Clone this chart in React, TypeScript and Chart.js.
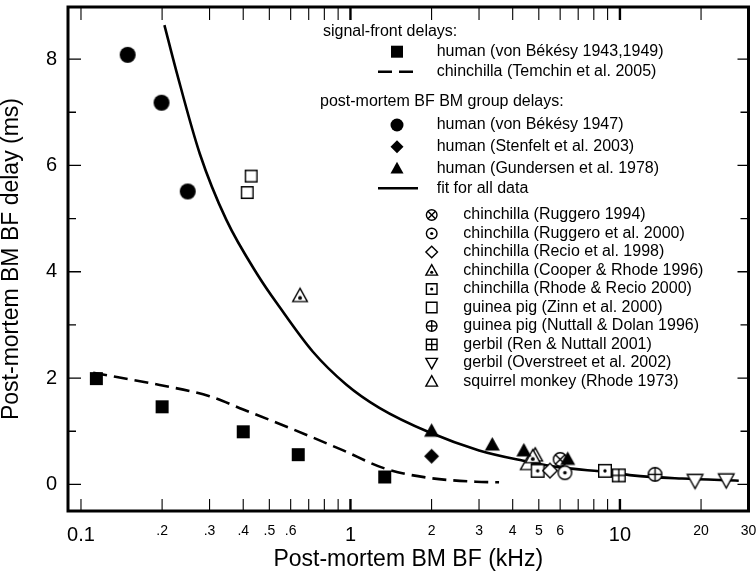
import React, { useEffect, useRef } from 'react';
import { Chart, registerables } from 'chart.js';

Chart.register(...registerables);

const FONT = '"Liberation Sans", Arial, Helvetica, sans-serif';

// ---------- axis ticks ----------
const xTickValues = [0.1, 0.2, 0.3, 0.4, 0.5, 0.6, 0.7, 0.8, 0.9, 1, 2, 3, 4, 5, 6, 7, 8, 9, 10, 20, 30];
const xTickLabels = ['0.1', '.2', '.3', '.4', '.5', '.6', '', '', '', '1', '2', '3', '4', '5', '6', '', '', '', '10', '20', '30'];
const xBigLabels = ['0.1', '1', '10'];
const yTickValues = [0, 1, 2, 3, 4, 5, 6, 7, 8];
const yTickLabels = ['0', '', '2', '', '4', '', '6', '', '8'];

const xTitle = 'Post-mortem BM BF (kHz)';
const yTitle = 'Post-mortem BM BF delay (ms)';

// ---------- series ----------
const fitFreq = [0.204, 0.226, 0.276, 0.346, 0.454, 0.545, 0.724, 0.964, 1.28, 1.96, 3.0, 4.34, 6.0, 9.1, 11.1, 17.0, 27.6];
const fitDelay = [8.64, 7.77, 6.22, 4.98, 3.93, 3.34, 2.5, 1.88, 1.44, 0.98, 0.64, 0.45, 0.32, 0.23, 0.17, 0.11, 0.07];

const temchinFreq = [0.111, 0.196, 0.3, 0.4, 0.61, 0.94, 1.34, 1.91, 2.92, 3.56];
const temchinDelay = [2.1, 1.87, 1.66, 1.41, 1.04, 0.64, 0.3, 0.13, 0.05, 0.04];

const bekesy4349Freq = [0.114, 0.2, 0.4, 0.64, 1.34];
const bekesy4349Delay = [1.99, 1.46, 0.99, 0.56, 0.14];

const bekesy47Freq = [0.149, 0.199, 0.249];
const bekesy47Delay = [8.08, 7.18, 5.51];

const stenfeltFreq = [2.0];
const stenfeltDelay = [0.53];

const gundersenFreq = [2.0, 3.36, 4.4, 6.4];
const gundersenDelay = [1.01, 0.75, 0.64, 0.48];

const ruggero94Freq = [6.0];
const ruggero94Delay = [0.47];

const ruggero00Freq = [6.25];
const ruggero00Delay = [0.22];

const recioFreq = [5.5];
const recioDelay = [0.26];

const cooperFreq = [0.65, 4.75];
const cooperDelay = [3.55, 0.52];

const rhodeRecioFreq = [4.95, 8.8];
const rhodeRecioDelay = [0.255, 0.255];

const zinnFreq = [0.428, 0.414];
const zinnDelay = [5.8, 5.49];

const nuttallDolanFreq = [13.5];
const nuttallDolanDelay = [0.19];

const renFreq = [9.9];
const renDelay = [0.17];

const overstreetFreq = [19.0, 24.8];
const overstreetDelay = [0.07, 0.08];

const squirrelFreq = [4.55, 4.85];
const squirrelDelay = [0.39, 0.55];

// ---------- legend texts ----------
const headerSignal = 'signal-front delays:';
const headerGroup = 'post-mortem BF BM group delays:';

type Kind =
  | 'fSquare' | 'fCircle' | 'fDiamond' | 'fTriangle'
  | 'circleX' | 'circleDot' | 'diamond' | 'triangleDot' | 'squareDot'
  | 'square' | 'circlePlus' | 'squareGrid' | 'triangleDown' | 'triangle';

interface Series { label: string; kind: Kind; freq: number[]; delay: number[]; size: number; }

const markerSeries: Series[] = [
  { label: 'human (von Békésy 1943,1949)', kind: 'fSquare', freq: bekesy4349Freq, delay: bekesy4349Delay, size: 13 },
  { label: 'human (von Békésy 1947)', kind: 'fCircle', freq: bekesy47Freq, delay: bekesy47Delay, size: 16 },
  { label: 'human (Stenfelt et al. 2003)', kind: 'fDiamond', freq: stenfeltFreq, delay: stenfeltDelay, size: 15 },
  { label: 'human (Gundersen et al. 1978)', kind: 'fTriangle', freq: gundersenFreq, delay: gundersenDelay, size: 15 },
  { label: 'chinchilla (Ruggero 1994)', kind: 'circleX', freq: ruggero94Freq, delay: ruggero94Delay, size: 15 },
  { label: 'chinchilla (Ruggero et al. 2000)', kind: 'circleDot', freq: ruggero00Freq, delay: ruggero00Delay, size: 15 },
  { label: 'chinchilla (Recio et al. 1998)', kind: 'diamond', freq: recioFreq, delay: recioDelay, size: 16 },
  { label: 'chinchilla (Cooper & Rhode 1996)', kind: 'triangleDot', freq: cooperFreq, delay: cooperDelay, size: 16 },
  { label: 'chinchilla (Rhode & Recio 2000)', kind: 'squareDot', freq: rhodeRecioFreq, delay: rhodeRecioDelay, size: 14 },
  { label: 'guinea pig (Zinn et al. 2000)', kind: 'square', freq: zinnFreq, delay: zinnDelay, size: 13 },
  { label: 'guinea pig (Nuttall & Dolan 1996)', kind: 'circlePlus', freq: nuttallDolanFreq, delay: nuttallDolanDelay, size: 15 },
  { label: 'gerbil (Ren & Nuttall 2001)', kind: 'squareGrid', freq: renFreq, delay: renDelay, size: 14 },
  { label: 'gerbil (Overstreet et al. 2002)', kind: 'triangleDown', freq: overstreetFreq, delay: overstreetDelay, size: 17 },
  { label: 'squirrel monkey (Rhode 1973)', kind: 'triangle', freq: squirrelFreq, delay: squirrelDelay, size: 16 },
];

const fitLabel = 'fit for all data';
const temchinLabel = 'chinchilla (Temchin et al. 2005)';

// ---------- marker drawing ----------
function drawMarker(ctx: CanvasRenderingContext2D, kind: Kind, cx: number, cy: number, s: number) {
  ctx.save();
  const lw = 1.4;
  ctx.lineWidth = lw;
  ctx.strokeStyle = '#000';
  ctx.fillStyle = '#000';
  const filled = kind[0] === 'f';
  const r = filled ? s / 2 : s / 2 - lw / 2;

  const shape = (k: string) => {
    ctx.beginPath();
    if (k === 'square') ctx.rect(cx - r, cy - r, 2 * r, 2 * r);
    else if (k === 'circle') ctx.arc(cx, cy, r, 0, Math.PI * 2);
    else if (k === 'diamond') {
      ctx.moveTo(cx, cy - r); ctx.lineTo(cx + r, cy); ctx.lineTo(cx, cy + r); ctx.lineTo(cx - r, cy); ctx.closePath();
    } else if (k === 'up') {
      ctx.moveTo(cx, cy - r); ctx.lineTo(cx + r, cy + r * 0.8); ctx.lineTo(cx - r, cy + r * 0.8); ctx.closePath();
    } else if (k === 'down') {
      ctx.moveTo(cx, cy + r); ctx.lineTo(cx + r, cy - r * 0.8); ctx.lineTo(cx - r, cy - r * 0.8); ctx.closePath();
    }
  };
  const open = (k: string) => {
    shape(k);
    ctx.fillStyle = '#fff';
    ctx.fill();
    ctx.stroke();
    ctx.fillStyle = '#000';
  };
  const dot = (dx: number, dy: number) => {
    ctx.beginPath();
    ctx.arc(cx + dx, cy + dy, Math.max(1.6, s * 0.12), 0, Math.PI * 2);
    ctx.fill();
  };
  const line = (x1: number, y1: number, x2: number, y2: number) => {
    ctx.beginPath(); ctx.moveTo(x1, y1); ctx.lineTo(x2, y2); ctx.stroke();
  };

  switch (kind) {
    case 'fSquare': shape('square'); ctx.fill(); break;
    case 'fCircle': shape('circle'); ctx.fill(); break;
    case 'fDiamond': shape('diamond'); ctx.fill(); break;
    case 'fTriangle': shape('up'); ctx.fill(); break;
    case 'circleX': {
      open('circle');
      const d = r * Math.SQRT1_2;
      line(cx - d, cy - d, cx + d, cy + d);
      line(cx - d, cy + d, cx + d, cy - d);
      break;
    }
    case 'circleDot': open('circle'); dot(0, 0); break;
    case 'diamond': open('diamond'); break;
    case 'triangleDot': open('up'); dot(0, r * 0.3); break;
    case 'squareDot': open('square'); dot(0, 0); break;
    case 'square': open('square'); break;
    case 'circlePlus': open('circle'); line(cx - r, cy, cx + r, cy); line(cx, cy - r, cx, cy + r); break;
    case 'squareGrid': open('square'); line(cx - r, cy, cx + r, cy); line(cx, cy - r, cx, cy + r); break;
    case 'triangleDown': open('down'); break;
    case 'triangle': open('up'); break;
  }
  ctx.restore();
}

function makeMarkerCanvas(kind: Kind, s: number): HTMLCanvasElement {
  const size = Math.ceil(s) + 4;
  const c = document.createElement('canvas');
  c.width = size;
  c.height = size;
  const ctx = c.getContext('2d')!;
  drawMarker(ctx, kind, size / 2, size / 2, s);
  return c;
}

// ---------- plugins ----------
const frameTicksPlugin = {
  id: 'frameTicks',
  afterDraw(chart: any) {
    const { ctx, chartArea: a, scales } = chart;
    const xs = scales.x;
    const ys = scales.y;
    ctx.save();
    ctx.strokeStyle = '#000';
    ctx.lineCap = 'butt';
    xTickValues.forEach((v, i) => {
      const px = xs.getPixelForValue(v);
      const big = xBigLabels.includes(xTickLabels[i]) && v !== 0.1;
      ctx.lineWidth = big ? 2.4 : 1.1;
      ctx.beginPath();
      ctx.moveTo(px, a.bottom);
      ctx.lineTo(px, a.bottom - 12);
      ctx.moveTo(px, a.top);
      ctx.lineTo(px, a.top + 13);
      ctx.stroke();
    });
    yTickValues.forEach((v, i) => {
      const py = ys.getPixelForValue(v);
      const major = yTickLabels[i] !== '';
      ctx.lineWidth = 1.3;
      ctx.beginPath();
      ctx.moveTo(a.left, py);
      ctx.lineTo(a.left + (major ? 13 : 8), py);
      ctx.moveTo(a.right, py);
      ctx.lineTo(a.right - (major ? 11 : 8), py);
      ctx.stroke();
    });
    ctx.lineWidth = 3;
    ctx.strokeRect(a.left, a.top, a.right - a.left, a.bottom - a.top);
    ctx.restore();
  },
};

const legendPlugin = {
  id: 'customLegend',
  afterDraw(chart: any) {
    const ctx: CanvasRenderingContext2D = chart.ctx;
    ctx.save();
    ctx.font = `16px ${FONT}`;
    ctx.fillStyle = '#000';
    ctx.textBaseline = 'middle';
    ctx.textAlign = 'left';

    const m1 = 397, t1 = 436.7;
    ctx.fillText(headerSignal, 323, 32);
    drawMarker(ctx, markerSeries[0].kind, m1, 51.7, 12);
    ctx.fillText(markerSeries[0].label, t1, 51.7);
    ctx.save();
    ctx.lineWidth = 2.4;
    ctx.setLineDash([14, 7]);
    ctx.beginPath(); ctx.moveTo(378, 71.7); ctx.lineTo(418, 71.7); ctx.stroke();
    ctx.restore();
    ctx.fillText(temchinLabel, t1, 71.7);

    ctx.fillText(headerGroup, 320, 101.7);
    const g2 = [125, 146.7, 168.3];
    [1, 2, 3].forEach((si, k) => {
      drawMarker(ctx, markerSeries[si].kind, m1, g2[k], 13);
      ctx.fillText(markerSeries[si].label, t1, g2[k]);
    });
    ctx.save();
    ctx.lineWidth = 2.4;
    ctx.beginPath(); ctx.moveTo(378, 188.3); ctx.lineTo(418, 188.3); ctx.stroke();
    ctx.restore();
    ctx.fillText(fitLabel, t1, 188.3);

    const m2 = 431.7, t2 = 463.3;
    for (let k = 0; k < 10; k++) {
      const s = markerSeries[4 + k];
      const y = 215 + k * 18.5;
      const big = s.kind === 'triangleDown' || s.kind === 'triangle' || s.kind === 'triangleDot' || s.kind === 'diamond';
      drawMarker(ctx, s.kind, m2, y, big ? 13 : 12);
      ctx.fillText(s.label, t2, y);
    }
    ctx.restore();
  },
};

export default function App() {
  const ref = useRef<HTMLCanvasElement | null>(null);

  useEffect(() => {
    if (!ref.current) return;
    const toPts = (f: number[], d: number[]) => f.map((x, i) => ({ x, y: d[i] }));

    const datasets: any[] = [
      {
        label: fitLabel,
        data: toPts(fitFreq, fitDelay),
        showLine: true,
        borderColor: '#000',
        borderWidth: 2.6,
        pointRadius: 0,
        cubicInterpolationMode: 'monotone',
        order: 2,
      },
      {
        label: temchinLabel,
        data: toPts(temchinFreq, temchinDelay),
        showLine: true,
        borderColor: '#000',
        borderWidth: 2.6,
        borderDash: [14, 7],
        pointRadius: 0,
        cubicInterpolationMode: 'monotone',
        order: 2,
      },
      ...markerSeries.map((s) => ({
        label: s.label,
        data: toPts(s.freq, s.delay),
        showLine: false,
        pointStyle: makeMarkerCanvas(s.kind, s.size),
        pointRadius: 6,
        order: 0,
      })),
    ];

    const chart = new Chart(ref.current, {
      type: 'scatter',
      data: { datasets },
      options: {
        animation: false,
        responsive: false,
        events: [],
        layout: { padding: { top: 1.5, right: 7.5, left: 0, bottom: 0 } },
        plugins: { legend: { display: false }, tooltip: { enabled: false } },
        scales: {
          x: {
            type: 'logarithmic',
            bounds: 'data',
            min: 0.0895,
            max: 30,
            position: 'bottom',
            grid: { display: false, drawTicks: false },
            border: { display: false },
            afterBuildTicks: (scale: any) => {
              scale.ticks = xTickValues.map((v) => ({ value: v, major: false }));
            },
            afterFit: (scale: any) => {
              scale.height = 65;
              scale.paddingLeft = 0;
              scale.paddingRight = 0;
              scale.paddingTop = 0;
              scale.paddingBottom = 0;
            },
            ticks: {
              autoSkip: false,
              maxRotation: 0,
              minRotation: 0,
              padding: 12,
              color: '#000',
              font: (c: any) => ({ family: FONT, size: xBigLabels.includes(xTickLabels[c.index]) ? 20 : 14 }),
              callback: (_v: any, i: number) => xTickLabels[i],
            },
            title: {
              display: true,
              text: xTitle,
              color: '#000',
              font: { family: FONT, size: 23, lineHeight: 1 },
              padding: { top: 0, bottom: 5 },
            },
          },
          y: {
            type: 'linear',
            min: -0.5,
            max: 8.98,
            grid: { display: false, drawTicks: false },
            border: { display: false },
            afterBuildTicks: (scale: any) => {
              scale.ticks = yTickValues.map((v) => ({ value: v }));
            },
            afterFit: (scale: any) => {
              scale.width = 68;
              scale.paddingLeft = 0;
              scale.paddingRight = 0;
              scale.paddingTop = 0;
              scale.paddingBottom = 0;
            },
            ticks: {
              autoSkip: false,
              padding: 11,
              color: '#000',
              font: { family: FONT, size: 20 },
              callback: (_v: any, i: number) => yTickLabels[i],
            },
            title: {
              display: true,
              text: yTitle,
              color: '#000',
              font: { family: FONT, size: 23, lineHeight: 1 },
              padding: { top: 0.5, bottom: 0 },
            },
          },
        },
      } as any,
      plugins: [frameTicksPlugin, legendPlugin],
    });
    return () => chart.destroy();
  }, []);

  return (
    <div style={{ position: 'fixed', left: 0, top: 0, width: 756, height: 576, background: '#fff' }}>
      <canvas ref={ref} width={756} height={576} style={{ display: 'block' }} />
    </div>
  );
}
